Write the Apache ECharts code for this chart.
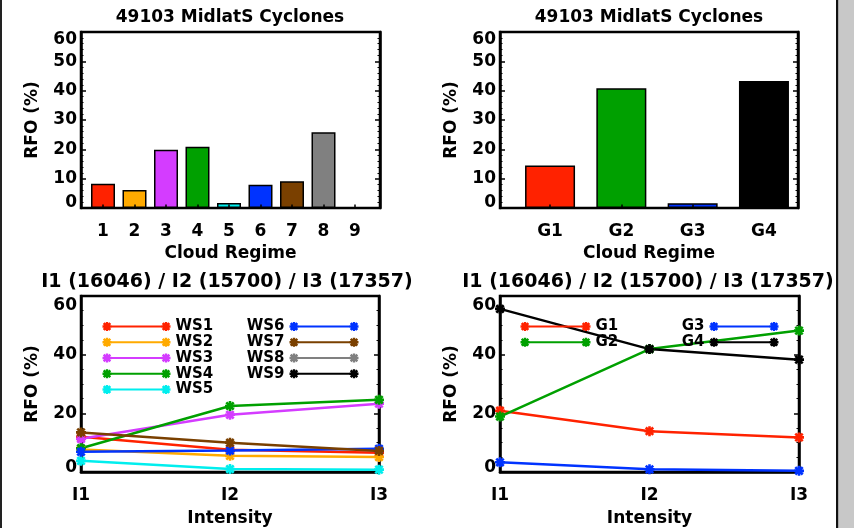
<!DOCTYPE html>
<html>
<head>
<meta charset="utf-8">
<script src="https://cdn.jsdelivr.net/npm/echarts@6/dist/echarts.min.js"></script>
<style>
html, body { margin: 0; padding: 0; background: #fff; }
#chart { width: 854px; height: 528px; }
</style>
</head>
<body>
<div id="chart"></div>
<script>
// ---- data ----
const titleTop = '49103 MidlatS Cyclones';
const titleBottom = 'I1 (16046) / I2 (15700) / I3 (17357)';

const regimes = ['1', '2', '3', '4', '5', '6', '7', '8', '9'];
const regimeRFO = [8.3, 6.1, 19.9, 20.9, 1.7, 7.9, 9.1, 25.8, 0.2];

const groups = ['G1', 'G2', 'G3', 'G4'];
const groupRFO = [14.5, 40.8, 1.6, 43.3];

const intensities = ['I1', 'I2', 'I3'];
const wsNames = ['WS1', 'WS2', 'WS3', 'WS4', 'WS5', 'WS6', 'WS7', 'WS8', 'WS9'];
const ws1 = [12.0, 7.6, 6.6];
const ws2 = [7.7, 5.5, 5.1];
const ws3 = [11.3, 19.5, 23.3];
const ws4 = [8.1, 22.5, 24.6];
const ws5 = [3.8, 1.0, 0.8];
const ws6 = [6.9, 7.3, 7.9];
const ws7 = [13.5, 10.0, 7.2];
const ws8 = [];
const ws9 = [];

const g1 = [20.9, 13.9, 11.8];
const g2 = [18.9, 41.9, 48.2];
const g3 = [3.3, 0.9, 0.4];
const g4 = [55.6, 41.9, 38.3];

const yTicksTop = 10;
const yTicksBottom = 20;

// ---- styling ----
const wsColors = ['#ff2200', '#ffaa00', '#d43cff', '#00a000', '#00eeee', '#0033ff', '#7a4000', '#808080', '#000000'];
const gColors = ['#ff2200', '#00a000', '#0033ff', '#000000'];
const FONT = 'DejaVu Sans';
const txt = { fontFamily: FONT, fontWeight: 'bold', fontSize: 17, color: '#000' };

// asterisk built from a "+" and an "x", every piece wound the same way
function asterisk(cx, cy, r, t) {
  const a = r * 0.74, n = t / Math.SQRT2;
  const p = (x, y) => (cx + x).toFixed(2) + ' ' + (cy + y).toFixed(2);
  return 'M' + p(-r, -t) + 'L' + p(r, -t) + 'L' + p(r, t) + 'L' + p(-r, t) + 'Z' +
         'M' + p(-t, -r) + 'L' + p(t, -r) + 'L' + p(t, r) + 'L' + p(-t, r) + 'Z' +
         'M' + p(-a + n, -a - n) + 'L' + p(a + n, a - n) + 'L' + p(a - n, a + n) + 'L' + p(-a - n, -a + n) + 'Z' +
         'M' + p(a - n, -a - n) + 'L' + p(a + n, -a + n) + 'L' + p(-a + n, a + n) + 'L' + p(-a - n, a - n) + 'Z';
}
const markerPath = 'path://' + asterisk(5, 5, 5, 1.3);
function legendIcon(w) {
  const c = 4.5;
  return 'path://M' + c + ' 3.4L' + (w - c) + ' 3.4L' + (w - c) + ' 5.6L' + c + ' 5.6Z' +
    asterisk(c, c, 4.5, 1.2) + asterisk(w - c, c, 4.5, 1.2);
}

function yLabels(topVal, shiftTop, shiftBottom) {
  return {
    show: true, margin: 4, ...txt,
    formatter: v => v === topVal ? '{t|' + v + '}' : (v === 0 ? '{b|0}' : String(v)),
    rich: {
      t: { ...txt, padding: [2 * shiftTop, 0, 0, 0] },
      b: { ...txt, padding: [0, 0, 2 * shiftBottom, 0] }
    }
  };
}
const blackLine = { show: true, lineStyle: { color: '#000', width: 2.5 } };
function frameY(grid, interval, minorSplit, labels, side) {
  return {
    type: 'value', gridIndex: grid, min: 0, max: 60, interval: interval, position: side,
    axisLine: blackLine,
    axisTick: { show: true, inside: true, length: 5, lineStyle: { color: '#000', width: 1.5 } },
    minorTick: { show: true, splitNumber: minorSplit, length: 2.5, lineStyle: { color: '#000', width: 1 } },
    splitLine: { show: false },
    axisLabel: labels || { show: false },
    name: labels ? 'RFO (%)' : '', nameLocation: 'middle', nameGap: 40, nameRotate: 90,
    nameTextStyle: { ...txt }
  };
}
function frameX(grid, name) {
  return {
    type: 'value', gridIndex: grid, min: 0, max: 1,
    axisLine: { show: false }, axisTick: { show: false }, axisLabel: { show: false }, splitLine: { show: false },
    name: name, nameLocation: 'middle', nameGap: 37, nameTextStyle: { ...txt }
  };
}
function barX(grid, cats) {
  return {
    type: 'category', gridIndex: grid, data: cats, z: 10,
    axisLine: { show: false },
    axisTick: { show: true, inside: true, length: 3.5, alignWithLabel: true, lineStyle: { color: '#000', width: 1.5 } },
    axisLabel: { margin: 15, ...txt }
  };
}
function hiddenY(grid) {
  return { type: 'value', gridIndex: grid, min: 0, max: 60, show: false, splitLine: { show: false } };
}
function lineX(grid) {
  return {
    type: 'category', gridIndex: grid, data: intensities, boundaryGap: false,
    axisLine: blackLine,
    axisTick: { show: true, inside: true, length: 5, lineStyle: { color: '#000', width: 1.5 } },
    axisLabel: { margin: 15, ...txt },
    name: 'Intensity', nameLocation: 'middle', nameGap: 38, nameTextStyle: { ...txt }
  };
}
const frameGrid = (l, t, w, h) => ({ left: l, top: t, width: w, height: h, show: true, borderColor: '#000', borderWidth: 2.5, backgroundColor: 'transparent' });
const plainGrid = (l, t, w, h) => ({ left: l, top: t, width: w, height: h });

function lineSeries(name, data, color, xi, yi) {
  return {
    type: 'line', name: name, data: data, xAxisIndex: xi, yAxisIndex: yi,
    symbol: markerPath, symbolSize: 10, showSymbol: true,
    lineStyle: { color: color, width: 2.5 }, itemStyle: { color: color },
    emphasis: { disabled: true }, z: 3
  };
}
function legendBlock(names, pos, width, alignRight) {
  return Object.assign({
    data: names, orient: 'vertical', padding: 0, itemGap: 0.75,
    itemWidth: width, itemHeight: 9, icon: legendIcon(width),
    align: alignRight ? 'right' : 'left', selectedMode: false,
    textStyle: { ...txt, fontSize: 15, lineHeight: 14 }
  }, pos);
}

const wsData = [ws1, ws2, ws3, ws4, ws5, ws6, ws7, ws8, ws9];
const gData = [g1, g2, g3, g4];

const option = {
  animation: false,
  backgroundColor: '#fff',
  title: [
    { text: titleTop, left: 230, top: 18 },
    { text: titleTop, left: 649, top: 18 },
    { text: titleBottom, left: 227, top: 282, textStyle: { ...txt, fontSize: 19 } },
    { text: titleBottom, left: 648, top: 282, textStyle: { ...txt, fontSize: 19 } }
  ].map(t => Object.assign({ textAlign: 'center', textVerticalAlign: 'middle', padding: 0, textStyle: { ...txt } }, t)),
  grid: [
    frameGrid(81, 32, 299, 176),
    plainGrid(87.25, 32, 283.5, 176),
    frameGrid(500, 32, 298, 176),
    plainGrid(514.4, 32, 285.2, 176),
    frameGrid(81, 296, 298, 176),
    frameGrid(500, 296, 299, 176)
  ],
  xAxis: [
    frameX(0, 'Cloud Regime'),
    barX(1, regimes),
    frameX(2, 'Cloud Regime'),
    barX(3, groups),
    lineX(4),
    lineX(5)
  ],
  yAxis: [
    frameY(0, yTicksTop, 5, yLabels(60, 8, 5), 'left'),
    frameY(0, yTicksTop, 5, null, 'right'),
    hiddenY(1),
    frameY(2, yTicksTop, 5, yLabels(60, 8, 5), 'left'),
    frameY(2, yTicksTop, 5, null, 'right'),
    hiddenY(3),
    frameY(4, yTicksBottom, 4, yLabels(60, 10, 4), 'left'),
    frameY(4, yTicksBottom, 4, null, 'right'),
    frameY(5, yTicksBottom, 4, yLabels(60, 10, 4), 'left'),
    frameY(5, yTicksBottom, 4, null, 'right')
  ],
  legend: [
    legendBlock(wsNames.slice(0, 5), { left: 102.5, top: 319 }, 68, false),
    legendBlock(wsNames.slice(5), { right: 495.5, top: 319 }, 69, true),
    legendBlock(['G1', 'G2'], { left: 520.5, top: 319 }, 70, false),
    legendBlock(['G3', 'G4'], { right: 75.5, top: 319 }, 69, true)
  ],
  series: [
    {
      type: 'bar', name: 'regimes', xAxisIndex: 1, yAxisIndex: 2, barWidth: 24,
      data: regimeRFO.map((v, i) => ({ value: v, itemStyle: { color: wsColors[i] } })),
      itemStyle: { borderColor: '#000', borderWidth: 1.5 }, emphasis: { disabled: true }
    },
    {
      type: 'bar', name: 'groups', xAxisIndex: 3, yAxisIndex: 5, barWidth: 50,
      data: groupRFO.map((v, i) => ({ value: v, itemStyle: { color: gColors[i] } })),
      itemStyle: { borderColor: '#000', borderWidth: 1.5 }, emphasis: { disabled: true }
    },
    ...wsNames.map((n, i) => lineSeries(n, wsData[i], wsColors[i], 4, 6)),
    ...groups.map((n, i) => lineSeries(n, gData[i], gColors[i], 5, 8))
  ],
  graphic: [
    { type: 'rect', left: 0, top: 0, shape: { width: 2, height: 528 }, style: { fill: '#222' }, silent: true },
    { type: 'rect', left: 836, top: 0, shape: { width: 2.5, height: 528 }, style: { fill: '#111' }, silent: true },
    { type: 'rect', left: 838.5, top: 0, shape: { width: 15.5, height: 528 }, style: { fill: '#c8c8c8' }, silent: true }
  ]
};

const chart = echarts.init(document.getElementById('chart'), null, { renderer: 'canvas' });
chart.setOption(option);
</script>
</body>
</html>
